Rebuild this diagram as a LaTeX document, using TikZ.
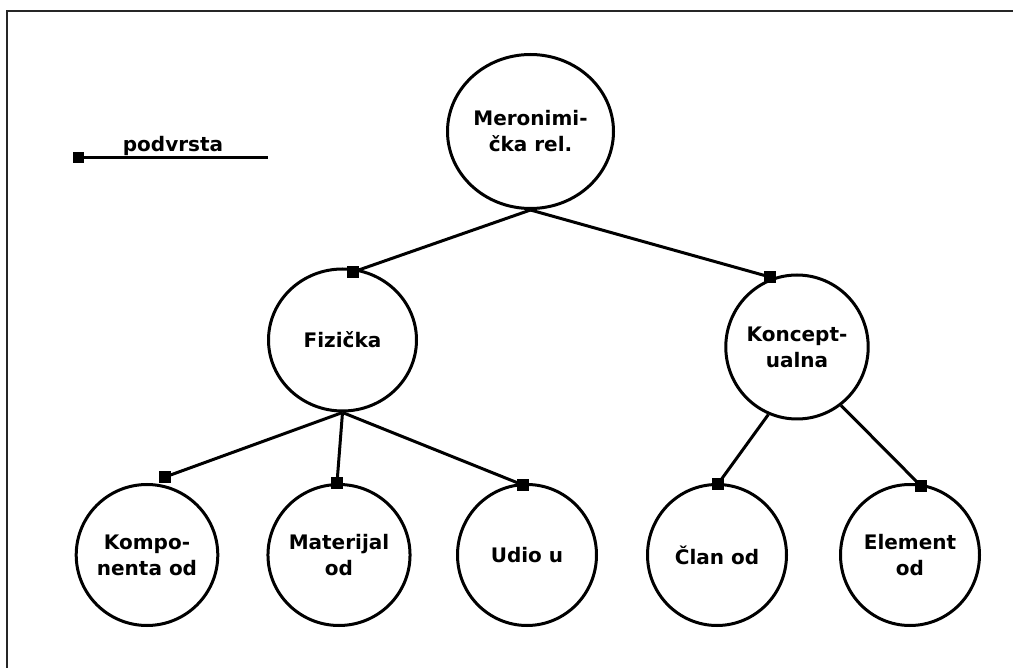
\documentclass[tikz,border=0pt]{standalone}
\usepackage{fontspec}
\setmainfont{DejaVu Sans}
\usetikzlibrary{shapes.geometric}
\begin{document}
\begin{tikzpicture}[x=1pt,y=-1pt,
  every node/.style={font=\fontsize{20}{26}\selectfont\bfseries},
  relnode/.style={ellipse, draw, line width=3pt, inner sep=0pt, align=center},
  conn/.style={line width=3pt},
  sq/.style={fill=black, inner sep=0pt, minimum size=11pt, draw=none}]
\useasboundingbox (0,0) rectangle (1013,668);
\coordinate (fa) at (7,668);
\coordinate (fb) at (7,11);
\coordinate (fc) at (1013,11);
\draw[line width=1.5pt, black!85] (fa) -- (fb) -- (fc);
% nodes
\node[relnode, minimum width=166pt, minimum height=154pt] (mero) at (530.5,131.5) {Meronimi-\\čka rel.};
\node[relnode, minimum width=148pt, minimum height=142pt] (fiz) at (342.5,340) {Fizička};
\node[relnode, minimum width=142pt, minimum height=144pt] (kon) at (797,347) {Koncept-\\ualna};
\node[relnode, minimum width=139pt, minimum height=141pt] (komp) at (147,555) {Kompo-\\nenta od};
\node[relnode, minimum width=139pt, minimum height=141pt] (mat) at (339,555) {Materijal\\od};
\node[relnode, minimum width=139pt, minimum height=141pt] (udio) at (527,555) {Udio u};
\node[relnode, minimum width=139pt, minimum height=141pt] (clan) at (717,555) {Član od};
\node[relnode, minimum width=139pt, minimum height=141pt] (elem) at (910,555) {Element\\od};
% connection squares
\node[sq] (sfiz) at (353,272) {};
\node[sq] (skon) at (770,277) {};
\node[sq] (skomp) at (165,477) {};
\node[sq] (smat) at (337,483) {};
\node[sq] (sudio) at (523,485) {};
\node[sq] (sclan) at (718,484) {};
\node[sq] (selem) at (921,486) {};
% connectors
\draw[conn] (mero.south) -- (sfiz.center);
\draw[conn] (mero.south) -- (skon.center);
\draw[conn] (fiz.south) -- (skomp.center);
\draw[conn] (fiz.south) -- (smat.center);
\draw[conn] (fiz.south) -- (sudio.center);
\draw[conn] (kon.247) -- (sclan.center);
\draw[conn] (kon.307) -- (selem.center);
% redraw squares on top
\foreach \s in {sfiz,skon,skomp,smat,sudio,sclan,selem}{\fill (\s.south west) rectangle (\s.north east);}
% legend
\node[sq] (lsq) at (78,157.5) {};
\coordinate (lend) at (268,157.5);
\draw[conn] (lsq.center) -- (lend);
\node[anchor=base] (ltxt) at (173,152) {podvrsta};
\end{tikzpicture}
\end{document}
